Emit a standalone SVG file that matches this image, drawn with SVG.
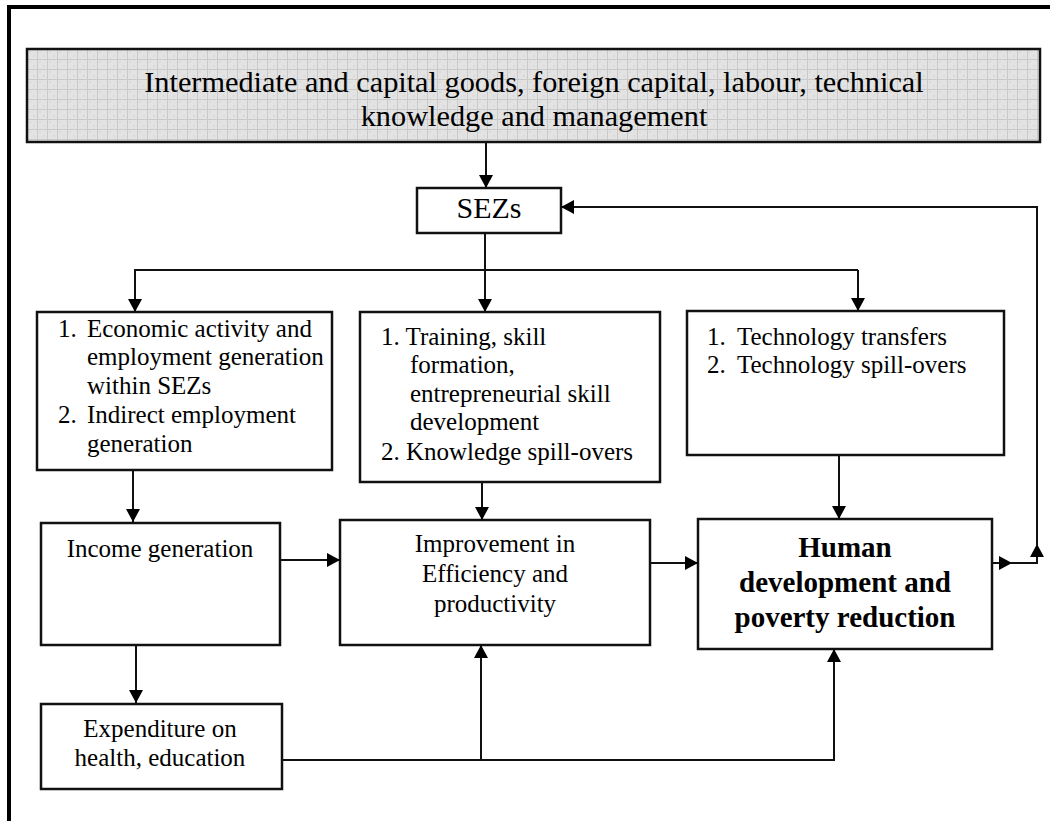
<svg xmlns="http://www.w3.org/2000/svg" width="1050" height="821" viewBox="0 0 1050 821">
<defs>
<pattern id="grid" x="27" y="49" width="10" height="10" patternUnits="userSpaceOnUse">
<rect width="10" height="10" fill="#e3e3e3"/>
<rect x="2" y="2" width="2" height="2" fill="#dadada"/>
<rect x="6" y="6" width="2" height="2" fill="#dadada"/>
<path d="M0,0.5 H10 M0.5,0 V10" stroke="#c9c9c9" stroke-width="1" fill="none"/>
</pattern>
<marker id="ah" markerWidth="14" markerHeight="14" refX="13" refY="7" orient="auto" markerUnits="userSpaceOnUse">
<path d="M0,0 L13,7 L0,14 z" fill="#000"/>
</marker>
<style>
.box{fill:#fff;stroke:#111;stroke-width:2.5}
.con{fill:none;stroke:#111;stroke-width:2}
.t{font-family:"Liberation Serif","Times New Roman",serif;font-size:25px;fill:#000}
.c{text-anchor:middle}
.top{font-size:30.3px}
.sez{font-size:30px}
.b{font-weight:bold;font-size:29px}
</style>
</defs>
<rect width="1050" height="821" fill="#fff"/>
<path d="M9,821 V7 H1050" fill="none" stroke="#000" stroke-width="4"/>

<g id="inputs">
<rect x="27" y="49" width="1013" height="93" fill="url(#grid)" stroke="#111" stroke-width="2.5"/>
<text class="t top c" x="534" y="92">Intermediate and capital goods, foreign capital, labour, technical</text>
<text class="t top c" x="534" y="126">knowledge and management</text>
</g>

<g id="sezs">
<rect class="box" x="417" y="188" width="144" height="45"/>
<text class="t sez c" x="489" y="218">SEZs</text>
</g>

<g id="employment">
<rect class="box" x="37" y="312" width="295" height="158"/>
<text class="t" x="58" y="337">1.</text><text class="t" x="87" y="337">Economic activity and</text>
<text class="t" x="87" y="365">employment generation</text>
<text class="t" x="87" y="394">within SEZs</text>
<text class="t" x="58" y="423">2.</text><text class="t" x="87" y="423">Indirect employment</text>
<text class="t" x="87" y="452">generation</text>
</g>

<g id="training">
<rect class="box" x="360" y="312" width="300" height="170"/>
<text class="t" x="381" y="345">1. Training, skill</text>
<text class="t" x="410" y="373">formation,</text>
<text class="t" x="410" y="402">entrepreneurial skill</text>
<text class="t" x="410" y="430">development</text>
<text class="t" x="381" y="460">2. Knowledge spill-overs</text>
</g>

<g id="technology">
<rect class="box" x="687" y="311" width="317" height="144"/>
<text class="t" x="707" y="345">1.</text><text class="t" x="737" y="345">Technology transfers</text>
<text class="t" x="707" y="373">2.</text><text class="t" x="737" y="373">Technology spill-overs</text>
</g>

<g id="income">
<rect class="box" x="41" y="523" width="239" height="122"/>
<text class="t c" x="160" y="557">Income generation</text>
</g>

<g id="improvement">
<rect class="box" x="340" y="520" width="310" height="125"/>
<text class="t c" x="495" y="552">Improvement in</text>
<text class="t c" x="495" y="582">Efficiency and</text>
<text class="t c" x="495" y="612">productivity</text>
</g>

<g id="human-development">
<rect class="box" x="698" y="519" width="294" height="130"/>
<text class="t b c" x="845" y="557">Human</text>
<text class="t b c" x="845" y="592">development and</text>
<text class="t b c" x="845" y="627">poverty reduction</text>
</g>

<g id="expenditure">
<rect class="box" x="41" y="704" width="241" height="85"/>
<text class="t c" x="160" y="737">Expenditure on</text>
<text class="t c" x="160" y="766">health, education</text>
</g>

<g id="connectors">
<path class="con" d="M486,142 V188" marker-end="url(#ah)"/>
<path class="con" d="M485,233 V312" marker-end="url(#ah)"/>
<path class="con" d="M135,312 V270 H858"/>
<path class="con" d="M135,270 V312" marker-end="url(#ah)"/>
<path class="con" d="M858,270 V311" marker-end="url(#ah)"/>
<path class="con" d="M992,563 H1012" marker-end="url(#ah)"/>
<path class="con" d="M1010,563 H1037 V544" marker-end="url(#ah)"/>
<path class="con" d="M1037,546 V207 H561" marker-end="url(#ah)"/>
<path class="con" d="M133,470 V522" marker-end="url(#ah)"/>
<path class="con" d="M482,482 V520" marker-end="url(#ah)"/>
<path class="con" d="M839,455 V519" marker-end="url(#ah)"/>
<path class="con" d="M280,560 H340" marker-end="url(#ah)"/>
<path class="con" d="M650,563 H698" marker-end="url(#ah)"/>
<path class="con" d="M136,645 V703" marker-end="url(#ah)"/>
<path class="con" d="M282,760 H834 V649" marker-end="url(#ah)"/>
<path class="con" d="M481,760 V645" marker-end="url(#ah)"/>
</g>
</svg>
